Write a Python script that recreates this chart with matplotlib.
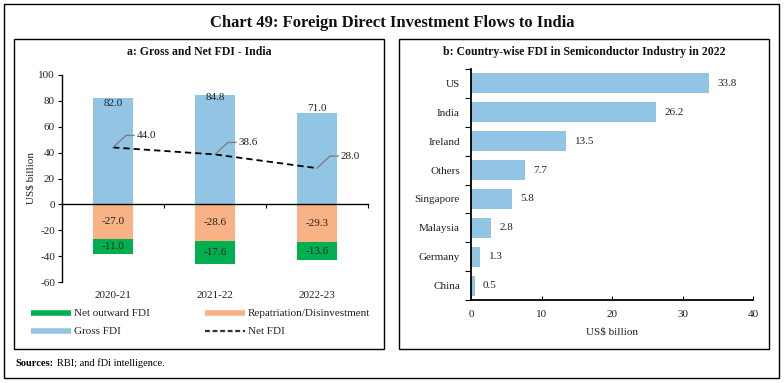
import matplotlib
matplotlib.use("Agg")
import matplotlib.pyplot as plt
import numpy as np
from matplotlib.lines import Line2D
from matplotlib.patches import Rectangle

plt.rcParams['font.family'] = ['Liberation Serif', 'DejaVu Serif']
plt.rcParams['axes.unicode_minus'] = False

# ---- data: panel a ----
years = ["2020-21", "2021-22", "2022-23"]
gross_fdi = [82.0, 84.8, 71.0]
repatriation = [-27.0, -28.6, -29.3]
net_outward = [-11.0, -17.6, -13.6]
net_fdi = [44.0, 38.6, 28.0]

# ---- data: panel b ----
countries = ["US", "India", "Ireland", "Others", "Singapore", "Malaysia", "Germany", "China"]
semicon_fdi = [33.8, 26.2, 13.5, 7.7, 5.8, 2.8, 1.3, 0.5]

BLUE = "#92C4E4"
ORANGE = "#F9B285"
GREEN = "#00B050"
TXT = "#222222"
FS = 8

W, H = 784, 383
fig = plt.figure(figsize=(W / 100, H / 100), dpi=100)


def fx(px):
    return px / W


def fy(py):
    return 1 - py / H


def box(x0, y0, x1, y1, lw=1.0):
    fig.add_artist(Rectangle((fx(x0), fy(y1)), fx(x1) - fx(x0), fy(y0) - fy(y1),
                             transform=fig.transFigure, fill=False, ec="black", lw=lw))


# frames
box(4, 4, 779, 378, lw=1.0)
box(14, 39, 384, 349, lw=1.0)
box(399, 39, 769, 349, lw=1.0)

fig.text(fx(392), fy(23), "Chart 49: Foreign Direct Investment Flows to India",
         ha="center", va="center", fontsize=12, fontweight="bold", color="#111111")
fig.text(fx(199), fy(52), "a: Gross and Net FDI - India",
         ha="center", va="center", fontsize=8.5, fontweight="bold", color="#111111")
fig.text(fx(584), fy(52), "b: Country-wise FDI in Semiconductor Industry in 2022",
         ha="center", va="center", fontsize=8.5, fontweight="bold", color="#111111")
fig.text(fx(15), fy(363), "Sources:", ha="left", va="center", fontsize=7.5, fontweight="bold")
fig.text(fx(57), fy(363), "RBI; and fDi intelligence.", ha="left", va="center", fontsize=7.5)

# ---------------- panel a ----------------
axa = fig.add_axes([fx(62), fy(282), fx(368) - fx(62), fy(75) - fy(282)])
x = np.arange(len(years))
bw = 0.39
axa.bar(x, gross_fdi, width=bw, color=BLUE, zorder=2)
axa.bar(x, repatriation, width=bw, color=ORANGE, zorder=2)
axa.bar(x, net_outward, width=bw, bottom=repatriation, color=GREEN, zorder=2)
axa.plot(x, net_fdi, color="black", lw=1.3, ls=(0, (3.5, 2.2)), zorder=3)

axa.set_xlim(-0.5, len(years) - 0.5)
axa.set_ylim(-60, 100)
yt = np.arange(-60, 101, 20)
axa.set_yticks(yt)
axa.set_yticklabels([f"{v}" for v in yt])
axa.tick_params(axis="y", direction="out", length=3, width=0.8, labelsize=FS, pad=2,
                labelcolor=TXT)
axa.spines["top"].set_visible(False)
axa.spines["right"].set_visible(False)
axa.spines["bottom"].set_position(("data", 0))
axa.spines["left"].set_linewidth(1.0)
axa.spines["bottom"].set_linewidth(1.0)
axa.set_xticks(np.arange(len(years) + 1) - 0.5)
axa.set_xticklabels([])
axa.tick_params(axis="x", direction="out", length=3, width=0.8)
axa.set_ylabel("US$ billion", fontsize=FS, labelpad=2, color=TXT)

for i, y in enumerate(years):
    axa.text(i, -0.065, y, transform=axa.get_xaxis_transform(), ha="center", va="center",
             fontsize=FS, color=TXT)

gross_label_shift = [-4.0, -2.4, 3.0]
for i in range(len(years)):
    g = gross_fdi[i]
    axa.text(i, g + gross_label_shift[i], f"{g:.1f}", ha="center", va="center", fontsize=FS,
             color=TXT, zorder=4)
    r = repatriation[i]
    axa.text(i, r / 2, f"{r:.1f}", ha="center", va="center", fontsize=FS, color=TXT, zorder=4)
    n = net_outward[i]
    axa.text(i, r + n / 2, f"{n:.1f}", ha="center", va="center", fontsize=FS, color=TXT, zorder=4)
    v = net_fdi[i]
    axa.plot([i, i + 0.127, i + 0.206], [v, v + 9.3, v + 9.3], color="#808080", lw=1.0, zorder=4)
    axa.text(i + 0.235, v + 9.3, f"{v:.1f}", ha="left", va="center", fontsize=FS,
             color=TXT, zorder=4)

# legend (manual)
leg_items = [
    (31, 313, "Net outward FDI", dict(color=GREEN, lw=4, solid_capstyle="butt")),
    (205, 313, "Repatriation/Disinvestment", dict(color=ORANGE, lw=4, solid_capstyle="butt")),
    (31, 331, "Gross FDI", dict(color=BLUE, lw=4, solid_capstyle="butt")),
    (205, 331, "Net FDI", dict(color="#333333", lw=1.6, ls=(0, (2.2, 1.2)))),
]
for px, py, label, kw in leg_items:
    fig.add_artist(Line2D([fx(px), fx(px + 40)], [fy(py), fy(py)], transform=fig.transFigure, **kw))
    fig.text(fx(px + 43), fy(py), label, ha="left", va="center", fontsize=FS, color=TXT)

# ---------------- panel b ----------------
axb = fig.add_axes([fx(471), fy(300), fx(753) - fx(471), fy(69) - fy(300)])
yb = np.arange(len(countries))
axb.barh(yb, semicon_fdi, height=0.69, color=BLUE, zorder=2)
axb.set_ylim(len(countries) - 0.5, -0.5)
axb.set_xlim(0, 40)
axb.set_xticks([0, 10, 20, 30, 40])
axb.tick_params(axis="x", direction="in", length=3, width=0.8, labelsize=FS, pad=7,
                labelcolor=TXT)
axb.set_yticks(yb)
axb.set_yticklabels(countries)
axb.tick_params(axis="y", which="major", length=0, labelsize=FS, pad=8, labelcolor=TXT)
axb.set_yticks(np.arange(len(countries) + 1) - 0.5, minor=True)
axb.tick_params(axis="y", which="minor", direction="out", length=4, width=0.8)
axb.spines["top"].set_visible(False)
axb.spines["right"].set_visible(False)
axb.spines["left"].set_linewidth(1.3)
axb.spines["bottom"].set_linewidth(1.3)
axb.set_xlabel("US$ billion", fontsize=FS, labelpad=6, color=TXT)
for i, v in enumerate(semicon_fdi):
    axb.text(v + 1.2, i, f"{v:.1f}", ha="left", va="center", fontsize=FS, color=TXT)

fig.savefig("out.png", dpi=100)
